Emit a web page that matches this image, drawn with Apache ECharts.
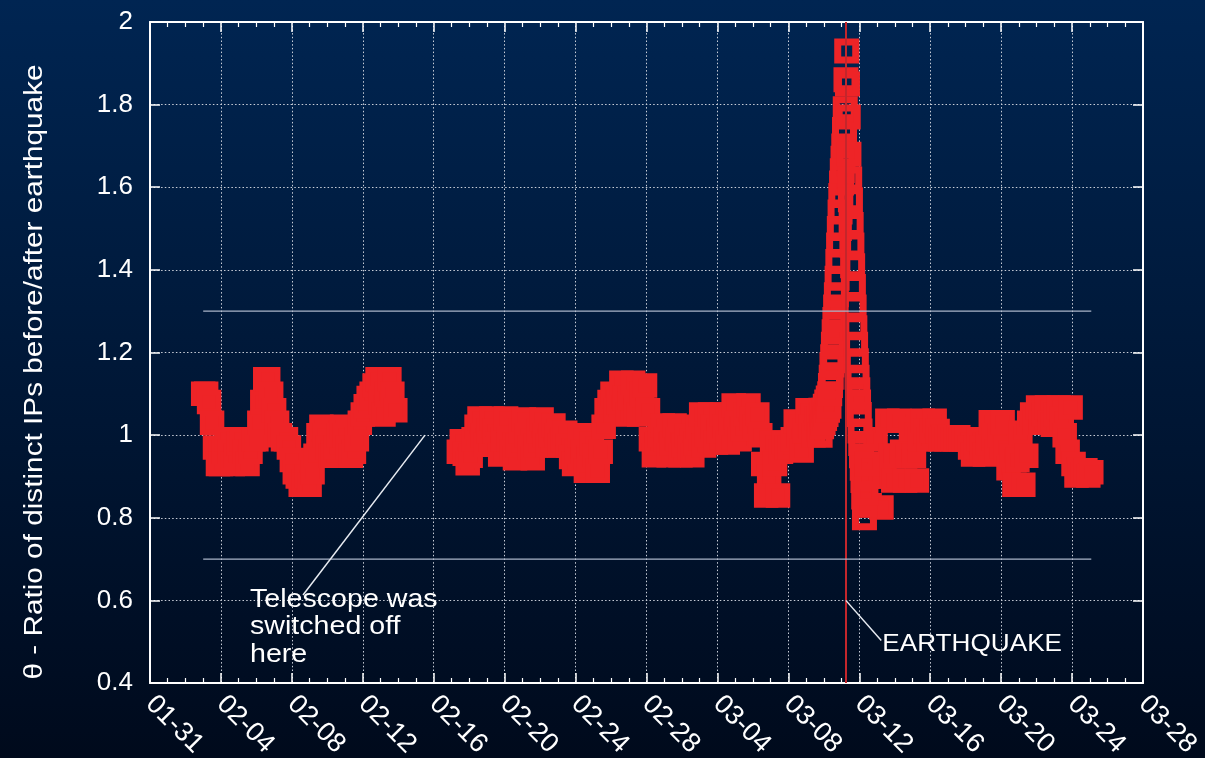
<!DOCTYPE html>
<html>
<head>
<meta charset="utf-8">
<script src="https://cdn.jsdelivr.net/npm/echarts@6/dist/echarts.min.js"></script>
<style>
  html, body { margin: 0; padding: 0; width: 1205px; height: 758px; overflow: hidden; }
  #chart { width: 1205px; height: 758px; background: linear-gradient(to bottom, #002552 0%, #000a1c 100%); }
</style>
</head>
<body>
<div id="chart"></div>
<script>
// ---- axis layout (days counted from 2011-01-31 00:00 UTC) ----
const AXIS_START = '2011-01-31 00:00';
const AXIS_DAYS = 56;
const TICK_DAYS = 4;
const Y_MIN = 0.4, Y_MAX = 2, Y_STEP = 0.2;

// ---- ratio samples, one array per recording stretch ----
// 02-03 .. 02-13, every 4 hours
const segAStart = '2011-02-03 00:00';
const segAStepHours = 4;
const segAValues = [
  1.10, 1.10, 1.08, 1.03, 0.97, 0.93,  0.93, 0.96, 0.99, 0.96, 0.93, 0.95,
  0.98, 0.99, 0.96, 0.93, 0.96, 0.99,  0.99, 1.03, 1.08, 1.135, 1.135, 1.10,
  1.06, 1.03, 1.00, 0.99, 0.99, 0.97,  0.94, 0.91, 0.90, 0.88, 0.88, 0.90,
  0.88, 0.91, 0.95, 1.00, 1.02, 1.00,  0.97, 0.95, 0.95, 0.97, 1.00, 1.02,
  1.00, 0.97, 0.95, 0.96, 0.99, 1.03,  1.05, 1.07, 1.09, 1.10, 1.12, 1.135,
  1.08, 1.05, 1.10, 1.135, 1.10, 1.06
];

// 02-17 .. 03-09, every 4 hours
const segBStart = '2011-02-17 10:00';
const segBStepHours = 4;
const segBValues = [
  0.96, 0.985, 0.955, 0.932, 0.95, 0.99,   1.02, 1.04, 1.00, 0.977, 1.01, 1.04,
  1.01, 0.98, 0.953, 0.99, 1.04, 0.99,     0.96, 0.944, 0.975, 1.01, 1.038, 1.00,
  0.97, 0.944, 0.975, 1.01, 1.038, 1.00,   0.975, 1.00, 1.023, 1.00, 0.975, 0.99,
  1.006, 0.975, 0.947, 0.93, 0.96, 1.00,   0.96, 0.914, 0.94, 0.98, 0.95, 0.914,
  0.96, 1.02, 1.06, 1.08, 1.10, 1.06,      1.08, 1.127, 1.09, 1.05, 1.09, 1.127,
  1.06, 1.05, 1.10, 1.12, 1.06, 0.99,      0.951, 0.98, 1.00, 1.023, 0.99, 0.951,
  0.98, 1.023, 0.99, 0.951, 0.975, 0.999,  0.97, 0.951, 0.98, 1.02, 1.05, 0.975,
  1.00, 1.05, 1.02, 0.982, 1.01, 1.05,     1.02, 0.982, 1.03, 1.072, 1.03, 0.99,
  1.015, 1.05, 1.072, 1.04, 1.02, 1.05,    1.00, 0.93, 0.854, 0.90, 0.982, 0.93,
  0.854, 0.96, 0.982, 0.97, 0.97, 0.99,    1.033, 1.00, 0.963, 1.01, 1.06, 1.02,
  1.00, 1.04
];

// 03-09 18:00 .. 03-12 11:00, hourly around the earthquake
const spikeStart = '2011-03-09 18:00';
const spikeStepHours = 1;
const spikeValues = [
  1.04, 1.00, 1.06, 1.02, 1.05, 1.03, 1.06, 1.04, 1.07, 1.05, 1.08, 1.06,
  1.09, 1.07, 1.10, 1.12, 1.14, 1.17, 1.19, 1.22, 1.25, 1.28, 1.31, 1.34,
  1.38, 1.42, 1.46, 1.50, 1.54, 1.58, 1.61, 1.64, 1.67, 1.70, 1.74, 1.79,
  1.86, 1.93, 1.85, 1.77, 1.68, 1.62, 1.57, 1.51, 1.46, 1.41, 1.36, 1.31,
  1.26, 1.22, 1.18, 1.14, 1.11, 1.08, 1.05, 1.01, 0.98, 0.95, 0.92, 0.89,
  0.85, 0.80, 0.83, 0.86, 0.90, 0.93
];

// 03-12 .. 03-25, every 4 hours
const segCStart = '2011-03-12 14:00';
const segCStepHours = 4;
const segCValues = [
  0.83, 0.90, 0.99, 0.90, 0.825, 0.93,    1.035, 0.95, 0.89, 0.95, 1.035, 0.96,
  0.89, 0.95, 1.014, 0.95, 0.89, 0.99,    1.035, 1.01, 0.99, 1.01, 1.035, 1.01,
  0.99, 0.995, 0.99, 0.995, 0.99, 0.99,   0.995, 0.99, 0.99, 0.99, 0.97, 0.953,
  0.97, 0.99, 0.97, 0.953, 0.98, 1.031,   1.00, 0.96, 1.00, 1.031, 0.97, 0.92,
  0.95, 0.88, 0.94, 1.006, 0.88, 0.95,    1.03, 1.05, 1.03, 1.067, 1.03, 1.05,
  1.067, 1.03, 1.025, 1.05, 1.067, 1.04,  1.00, 0.96, 1.067, 0.93, 0.902, 0.91,
  0.905, 0.915, 0.902, 0.91
];

// reference levels and event time
const upperBound = 1.3;
const lowerBound = 0.7;
const earthquakeTime = '2011-03-11 05:46';

// ---- helpers ----
function toDay(s) {
  const [d, t] = s.split(' ');
  const [Y, M, D] = d.split('-').map(Number);
  const [h, m] = t.split(':').map(Number);
  const [Y0, M0, D0] = AXIS_START.split(' ')[0].split('-').map(Number);
  return (Date.UTC(Y, M - 1, D, h, m) - Date.UTC(Y0, M0 - 1, D0)) / 864e5;
}
function dayLabel(v) {
  const [Y0, M0, D0] = AXIS_START.split(' ')[0].split('-').map(Number);
  const dt = new Date(Date.UTC(Y0, M0 - 1, D0) + Math.round(v * 864e5));
  const mm = String(dt.getUTCMonth() + 1).padStart(2, '0');
  const dd = String(dt.getUTCDate()).padStart(2, '0');
  return mm + '-' + dd;
}
function toPoints(start, stepHours, values) {
  const d0 = toDay(start);
  return values.map((v, i) => [d0 + i * stepHours / 24, v]);
}

// 4-hourly stretches and the hourly stretch around the event
const routinePoints = [].concat(
  toPoints(segAStart, segAStepHours, segAValues),
  toPoints(segBStart, segBStepHours, segBValues),
  toPoints(segCStart, segCStepHours, segCValues)
);
const eventPoints = toPoints(spikeStart, spikeStepHours, spikeValues);
const allDays = routinePoints.concat(eventPoints).map(p => p[0]);
const firstDay = Math.min.apply(null, allDays);
const lastDay = Math.max.apply(null, allDays);
const eqDay = toDay(earthquakeTime);

const FONT = '"Liberation Sans", Arial, Helvetica, sans-serif';
const WHITE = '#ffffff';
const RED = '#ee2427';

const tickStyle = { color: WHITE, width: 1.5 };
const gridLine = { show: true, lineStyle: { color: '#c9ced8', width: 1, type: [1.5, 2.2] } };

const chart = echarts.init(document.getElementById('chart'), null, { renderer: 'canvas' });

const option = {
  animation: false,
  backgroundColor: 'transparent',
  grid: { left: 150, right: 62, top: 22, bottom: 75, containLabel: false, outerBoundsMode: 'none' },
  xAxis: [
    {
      type: 'value', position: 'bottom', min: 0, max: AXIS_DAYS, interval: TICK_DAYS,
      axisLine: { show: true, onZero: false, lineStyle: { color: WHITE, width: 2 } },
      axisTick: { show: true, inside: true, length: 10, lineStyle: tickStyle },
      minorTick: { show: true, splitNumber: 4, length: 5, lineStyle: { color: WHITE, width: 1.2 } },
      axisLabel: {
        show: true, rotate: -45, margin: 17, color: WHITE, fontSize: 27, fontFamily: FONT,
        interval: 0, hideOverlap: false, showMinLabel: true, showMaxLabel: true,
        formatter: v => dayLabel(v)
      },
      splitLine: gridLine
    },
    {
      type: 'value', position: 'top', min: 0, max: AXIS_DAYS, interval: TICK_DAYS,
      axisLine: { show: true, onZero: false, lineStyle: { color: WHITE, width: 2 } },
      axisTick: { show: true, inside: true, length: 10, lineStyle: tickStyle },
      minorTick: { show: true, splitNumber: 4, length: 5, lineStyle: { color: WHITE, width: 1.2 } },
      axisLabel: { show: false },
      splitLine: { show: false }
    }
  ],
  yAxis: [
    {
      type: 'value', position: 'left', min: Y_MIN, max: Y_MAX, interval: Y_STEP,
      axisLine: { show: true, onZero: false, lineStyle: { color: WHITE, width: 2 } },
      axisTick: { show: true, inside: true, length: 10, lineStyle: tickStyle },
      axisLabel: { show: true, margin: 17, color: WHITE, fontSize: 26, fontFamily: FONT },
      splitLine: gridLine
    },
    {
      type: 'value', position: 'right', min: Y_MIN, max: Y_MAX, interval: Y_STEP,
      axisLine: { show: true, onZero: false, lineStyle: { color: WHITE, width: 2 } },
      axisTick: { show: true, inside: true, length: 10, lineStyle: tickStyle },
      axisLabel: { show: false },
      splitLine: { show: false }
    }
  ],
  series: [
    {
      // the 4-hourly squares overlap into a solid band
      name: 'ratio',
      type: 'scatter',
      data: routinePoints,
      symbol: 'rect',
      symbolSize: 19,
      itemStyle: { color: RED, borderColor: RED, borderWidth: 5.5, opacity: 1 },
      emphasis: { disabled: true },
      z: 2,
      markLine: {
        silent: true,
        symbol: ['none', 'none'],
        label: { show: false },
        lineStyle: { color: '#c4262c', width: 2, type: 'solid' },
        data: [{ xAxis: eqDay }],
        z: 4
      }
    },
    {
      name: 'ratio (hourly)',
      type: 'scatter',
      data: eventPoints,
      symbol: 'rect',
      symbolSize: 18,
      itemStyle: { color: 'rgba(0,0,0,0)', borderColor: RED, borderWidth: 7, opacity: 1 },
      emphasis: { disabled: true },
      z: 2
    },
    {
      name: 'upper',
      type: 'line',
      data: [[firstDay, upperBound], [lastDay, upperBound]],
      showSymbol: false, symbol: 'none',
      lineStyle: { color: '#aab5c8', width: 1.2 },
      silent: true, z: 5
    },
    {
      name: 'lower',
      type: 'line',
      data: [[firstDay, lowerBound], [lastDay, lowerBound]],
      showSymbol: false, symbol: 'none',
      lineStyle: { color: '#aab5c8', width: 1.2 },
      silent: true, z: 5
    }
  ]
};

chart.setOption(option);

// ---- annotations: leader lines and notes placed in data coordinates ----
const px = p => chart.convertToPixel({ xAxisIndex: 0, yAxisIndex: 0 }, p);
const telFrom = px([8.63, 0.613]);
const telTo = px([15.51, 1.0]);
const eqFrom = px([eqDay, 0.6]);
const eqTo = px([eqDay + 2.0, 0.503]);

chart.setOption({
  graphic: [
    {
      type: 'text', z: 100,
      x: 35, y: 372, rotation: Math.PI / 2, scaleX: 1.19,
      style: {
        text: '\u03b8 - Ratio of distinct IPs before/after earthquake',
        fill: WHITE, font: '25px ' + FONT,
        align: 'center', verticalAlign: 'middle',
        textAlign: 'center', textVerticalAlign: 'middle'
      }
    },
    {
      type: 'line', z: 100,
      shape: { x1: telFrom[0], y1: telFrom[1], x2: telTo[0], y2: telTo[1] },
      style: { stroke: '#e8ecf2', lineWidth: 1.5 }
    },
    {
      type: 'text', z: 100,
      x: telFrom[0] - 53, y: telFrom[1] - 9, scaleX: 1.1,
      style: {
        text: 'Telescope was\nswitched off\nhere',
        fill: WHITE, font: '26px ' + FONT, lineHeight: 27.5,
        align: 'left', verticalAlign: 'top',
        textAlign: 'left', textVerticalAlign: 'top'
      }
    },
    {
      type: 'line', z: 100,
      shape: { x1: eqFrom[0], y1: eqFrom[1], x2: eqTo[0], y2: eqTo[1] },
      style: { stroke: '#e8ecf2', lineWidth: 1.5 }
    },
    {
      type: 'text', z: 100,
      x: eqTo[0] + 1, y: eqTo[1] + 4, scaleX: 1.09,
      style: {
        text: 'EARTHQUAKE',
        fill: WHITE, font: '24px ' + FONT,
        align: 'left', verticalAlign: 'middle',
        textAlign: 'left', textVerticalAlign: 'middle'
      }
    }
  ]
});
</script>
</body>
</html>
